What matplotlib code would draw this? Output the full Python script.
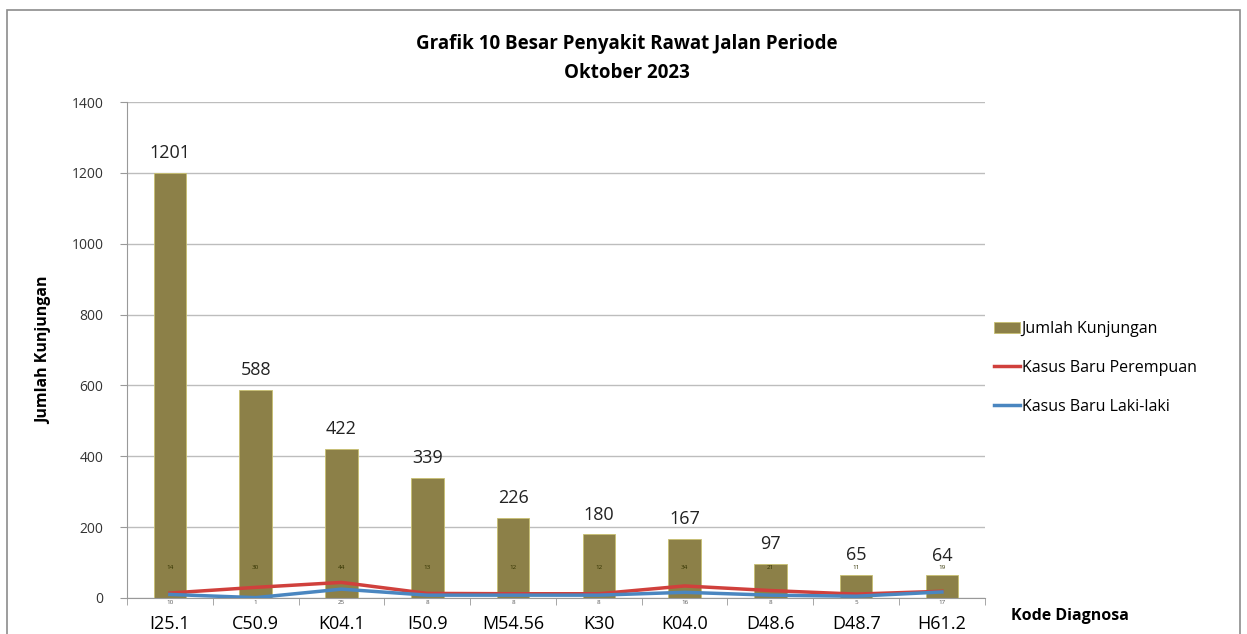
import numpy as np
import matplotlib.pyplot as plt
from matplotlib.patches import Rectangle

plt.rcParams['font.family'] = ['Open Sans', 'DejaVu Sans']

# data
kode = ['I25.1', 'C50.9', 'K04.1', 'I50.9', 'M54.56', 'K30', 'K04.0', 'D48.6', 'D48.7', 'H61.2']
kunjungan = [1201, 588, 422, 339, 226, 180, 167, 97, 65, 64]
perempuan = [14, 30, 44, 13, 12, 12, 34, 21, 11, 19]
laki = [10, 1, 25, 8, 8, 8, 16, 8, 5, 17]

fig = plt.figure(figsize=(12.47, 6.34), dpi=100)
fig.patches.append(Rectangle((0.006, -0.01), 0.988, 0.995, transform=fig.transFigure,
                             fill=False, edgecolor='#8c8c8c', lw=1.2))
ax = fig.add_axes([0.1018, 0.0568, 0.688, 0.7822])

x = np.arange(len(kode))
bars = ax.bar(x, kunjungan, width=0.38, color='#8c8048', edgecolor='#c8c070', lw=0.6,
              label='Jumlah Kunjungan', zorder=2)
l1, = ax.plot(x, perempuan, color='#d0403c', lw=2.5, label='Kasus Baru Perempuan', zorder=3)
l2, = ax.plot(x, laki, color='#4a86c0', lw=2.5, label='Kasus Baru Laki-laki', zorder=3)

for i, v in enumerate(kunjungan):
    ax.text(x[i], v + 30, str(v), ha='center', va='bottom', fontsize=13, color='#222222')
for i, v in enumerate(perempuan):
    ax.text(x[i], 85, str(v), ha='center', va='center', fontsize=4.5, color='#333300')
for i, v in enumerate(laki):
    ax.text(x[i], -12, str(v), ha='center', va='center', fontsize=4.5, color='#555555')

ax.set_xlim(-0.5, len(kode) - 0.5)
ax.set_ylim(0, 1400)
ax.set_yticks(range(0, 1401, 200))
ax.set_xticks(x)
ax.set_xticklabels(kode, fontsize=13)
ax.set_xticks(np.arange(-0.5, len(kode), 1), minor=True)
ax.tick_params(axis='x', which='major', length=0, pad=12)
ax.tick_params(axis='x', which='minor', length=5, color='#999999')
ax.tick_params(axis='y', labelsize=10, length=5, color='#999999', colors='#333333', pad=12)
ax.grid(axis='y', color='#bdbdbd', lw=1, zorder=0)
ax.set_axisbelow(True)
for s in ['top', 'right']:
    ax.spines[s].set_visible(False)
ax.spines['left'].set_color('#999999')
ax.spines['bottom'].set_color('#999999')

ax.set_ylabel('Jumlah Kunjungan', fontsize=11.5, fontweight='bold', labelpad=14)
fig.text(0.503, 0.907, 'Grafik 10 Besar Penyakit Rawat Jalan Periode\nOktober 2023',
         ha='center', va='center', fontsize=13.5, fontweight='bold', linespacing=1.6)
fig.text(0.858, 0.028, 'Kode Diagnosa', ha='center', va='center', fontsize=11.5,
         fontweight='bold')

ax.legend([bars, l1, l2], ['Jumlah Kunjungan', 'Kasus Baru Perempuan', 'Kasus Baru Laki-laki'],
          loc='center left', bbox_to_anchor=(1.0, 0.464), frameon=False, fontsize=11.5,
          handlelength=1.6, handletextpad=0.1, labelspacing=1.45, borderaxespad=0.2)

fig.savefig('out.png', dpi=100)
